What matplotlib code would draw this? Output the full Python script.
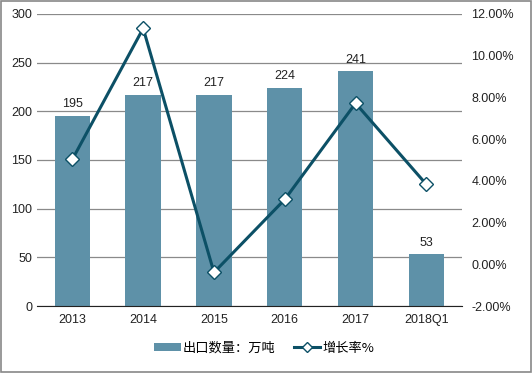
import matplotlib
matplotlib.use('Agg')
import matplotlib.pyplot as plt
import matplotlib.patches as mpatches
from matplotlib.ticker import FuncFormatter

plt.rcParams['font.family'] = ['Liberation Sans', 'Noto Sans CJK SC', 'DejaVu Sans']

# 数据
years = ['2013', '2014', '2015', '2016', '2017', '2018Q1']
export_qty = [195, 217, 217, 224, 241, 53]
growth_rate = [5.03, 11.31, -0.39, 3.11, 7.72, 3.83]

bar_color = '#5E91A8'
line_color = '#0C5066'

fig = plt.figure(figsize=(5.32, 3.73), dpi=100)
ax = fig.add_axes([0.0695, 0.1796, 0.7985, 0.7829])

x = list(range(len(years)))
bars = ax.bar(x, export_qty, width=0.5, color=bar_color, zorder=2, label='出口数量：万吨')
for xi, v in zip(x, export_qty):
    ax.text(xi, v + 6, str(v), ha='center', va='bottom', fontsize=9, color='#222222')

ax.set_xlim(-0.5, len(years) - 0.5)
ax.set_ylim(0, 300)
ax.set_yticks(range(0, 301, 50))
ax.set_xticks(x)
ax.set_xticklabels(years)
ax.yaxis.grid(True, color='#8a8a8a', linewidth=0.9, zorder=0)
ax.set_axisbelow(True)
for s in ['left', 'right', 'top']:
    ax.spines[s].set_visible(False)
ax.spines['bottom'].set_color('#222222')
ax.tick_params(axis='both', length=0, labelsize=9, colors='#222222')
ax.tick_params(axis='x', pad=6)

ax2 = ax.twinx()
line, = ax2.plot(x, growth_rate, color=line_color, linewidth=2.2, marker='D',
                 markersize=7, markerfacecolor='white', markeredgecolor=line_color,
                 markeredgewidth=1, zorder=3, label='增长率%')
ax2.set_ylim(-2, 12)
ax2.set_yticks(range(-2, 13, 2))
ax2.yaxis.set_major_formatter(FuncFormatter(lambda v, p: '%.2f%%' % v))
for s in ['left', 'right', 'top', 'bottom']:
    ax2.spines[s].set_visible(False)
ax2.tick_params(axis='y', length=0, labelsize=9, colors='#222222', pad=7)

leg = fig.legend(handles=[bars, line], loc='center', bbox_to_anchor=(0.497, 0.067),
                 ncol=2, frameon=False, handlelength=2.0, handleheight=0.6,
                 handletextpad=0.15, columnspacing=1.4, markerscale=0.8,
                 prop={'family': ['Noto Sans CJK SC', 'DejaVu Sans'], 'size': 9.5})

fig.patches.append(mpatches.Rectangle((0.001, 0.002), 0.997, 0.996, transform=fig.transFigure,
                                      fill=False, edgecolor='#888888', linewidth=1.2))

fig.savefig('out.png', dpi=100)
